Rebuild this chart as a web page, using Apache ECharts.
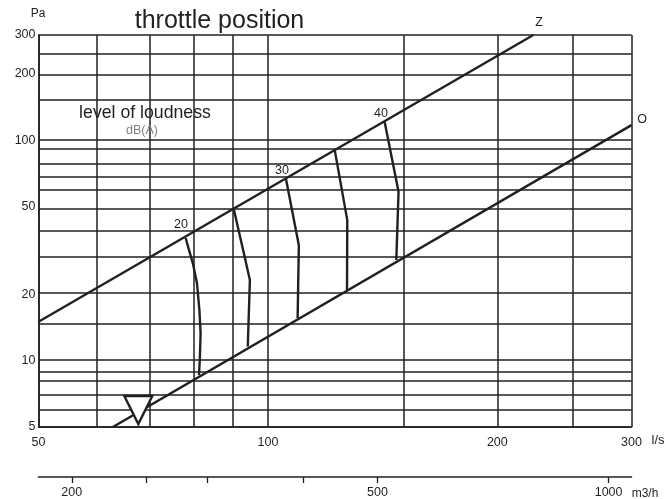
<!DOCTYPE html>
<html><head><meta charset="utf-8">
<style>html,body{margin:0;padding:0;background:#fff}#c{width:666px;height:499px}</style>
<script src="https://cdn.jsdelivr.net/npm/echarts@6/dist/echarts.min.js"></script>
</head><body><div id="c"></div>
<script>
const xGridValues=[50,59.7,69.9,80,90,100,150.9,200.5,251,300];
const yGridValues=[5,6,6.98,8.08,8.88,10.07,14.66,20.3,29.5,38.7,48.7,59.4,68.3,78,91.4,100,152,197.4,247.6,300];
const xTickLabels=[50,100,200,300];
const yTickLabels=[5,10,20,50,100,200,300];
const m3hTicks=[200,250,300,400,500,1000];
const m3hLabels=[200,500,1000];
const lineZ=[[50,15],[223,300]];
const lineO=[[62.6,5],[300,117]];
const curve20=[[78,36],[78.8,31.7],[79.7,27.7],[80.7,22.5],[81.3,17],[81.6,13.3],[81.4,10.07],[81.2,8.6]];
const curve25=[[90.2,48.7],[92.8,31.7],[94.7,23.2],[94.1,11.6]];
const curve30=[[105.6,66.8],[109.8,33.4],[109.4,15.6]];
const curve35=[[122.4,89.9],[127.1,43.4],[127,20.9]];
const curve40=[[142.3,121],[148.4,58.4],[147.4,28.6]];
const marker=[[67.6,5.97]];
const ink='#231f20', font='"Liberation Sans",Arial,sans-serif';
const line=(d,w)=>({type:'line',data:d,xAxisIndex:0,yAxisIndex:0,symbol:'none',silent:true,smooth:false,z:3,lineStyle:{color:ink,width:w}});
const txt=(s,x,y,size,color)=>({type:'text',x,y,style:{text:s,fontSize:size,fontFamily:font,fill:color||ink,textAlign:'center',textVerticalAlign:'middle'},z:10});
const plain=v=>String(Math.round(v));
const chart=echarts.init(document.getElementById('c'),null,{renderer:'canvas'});
chart.setOption({
 animation:false,backgroundColor:'#fff',
 grid:[{left:38.5,top:35,width:593,height:392},{left:38.5,top:476,width:593,height:1}],
 xAxis:[
  {type:'log',gridIndex:0,min:50,max:300,logBase:10,position:'bottom',
   axisLine:{show:true,lineStyle:{color:ink,width:1.6}},
   axisTick:{show:false,customValues:xGridValues},
   minorTick:{show:false},minorSplitLine:{show:false},
   splitLine:{show:true,lineStyle:{color:ink,width:1.5}},
   axisLabel:{customValues:xTickLabels,formatter:plain,fontFamily:font,fontSize:12.5,color:ink,margin:9,showMinLabel:true,showMaxLabel:true,hideOverlap:false}},
  {type:'log',gridIndex:1,min:181,max:1071,logBase:10,position:'bottom',
   axisLine:{show:true,lineStyle:{color:ink,width:1.6}},
   axisTick:{show:true,customValues:m3hTicks,length:6,lineStyle:{color:ink,width:1.3}},
   minorTick:{show:false},splitLine:{show:false},
   axisLabel:{customValues:m3hLabels,formatter:plain,fontFamily:font,fontSize:12.5,color:ink,margin:9,hideOverlap:false}}
 ],
 yAxis:[
  {type:'log',gridIndex:0,min:5,max:300,logBase:10,
   axisLine:{show:true,lineStyle:{color:ink,width:1.6}},
   axisTick:{show:false,customValues:yGridValues},
   minorTick:{show:false},minorSplitLine:{show:false},
   splitLine:{show:true,lineStyle:{color:ink,width:1.5}},
   axisLabel:{customValues:yTickLabels,formatter:plain,fontFamily:font,fontSize:12.5,color:ink,margin:3,showMinLabel:true,showMaxLabel:true,hideOverlap:false}},
  {type:'value',gridIndex:1,min:0,max:1,show:false}
 ],
 series:[
  line(lineZ,2.4),line(lineO,2.4),
  line(curve20,2.4),line(curve25,2.4),line(curve30,2.4),line(curve35,2.4),line(curve40,2.4),
  {type:'scatter',data:marker,xAxisIndex:0,yAxisIndex:0,symbol:'triangle',symbolRotate:180,symbolSize:28,silent:true,z:5,
   itemStyle:{color:'#fff',borderColor:ink,borderWidth:2.4,opacity:1}}
 ],
 graphic:[
  txt('throttle position',219.5,21,25),
  txt('level of loudness',145,113,17.7),
  txt('dB(A)',142,130.5,12.5,'#808285'),
  txt('Pa',38,14,12),
  txt('Z',539,23,12.5),
  txt('O',642,120,12.5),
  txt('20',181,225,12.5),
  txt('30',282,171,12.5),
  txt('40',381,114,12.5),
  txt('l/s',658,440,13),
  txt('m3/h',645,494,12)
 ]
});
</script></body></html>
